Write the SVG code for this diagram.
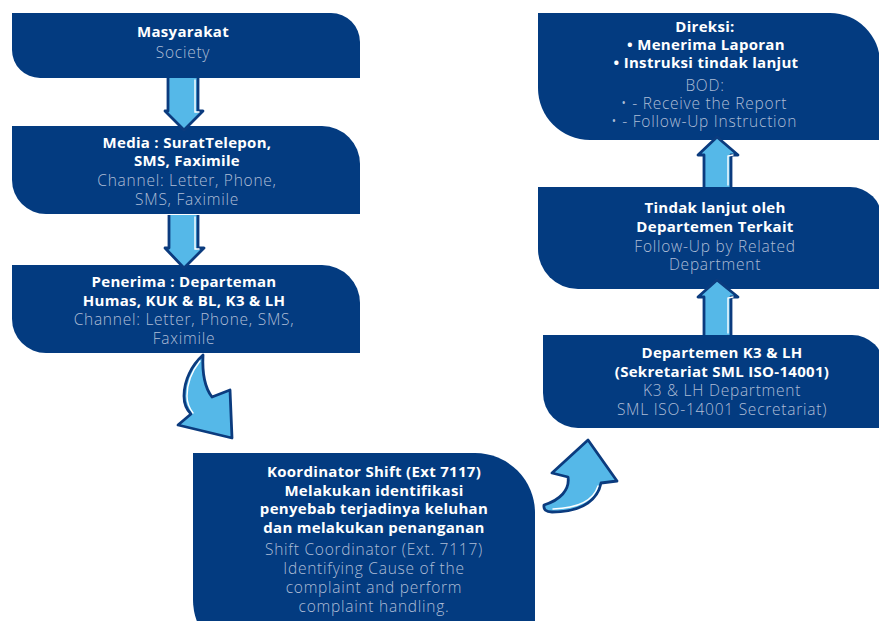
<svg xmlns="http://www.w3.org/2000/svg" width="879" height="621" viewBox="0 0 879 621">
<style>
.box{fill:#033B80}
.b{font-family:"Open Sans","Noto Sans","Liberation Sans",sans-serif;font-weight:700;font-size:15px;letter-spacing:0.3px;fill:#FFFFFF;text-anchor:middle}
.l{font-family:"Open Sans","Noto Sans","Liberation Sans",sans-serif;font-weight:300;font-size:15.5px;letter-spacing:0.75px;fill:#AEBDD6;text-anchor:middle}
.arr{fill:#55B8E8;stroke:#0B3B7E;stroke-width:2.8;stroke-linejoin:round}
.hl{fill:none;stroke:#FFFFFF;stroke-width:1.4;stroke-linecap:round}
</style>
<rect width="879" height="621" fill="#FFFFFF"/>
<g id="n1">
<path class="box" d="M12,13 H331 A29,29 0 0 1 360,42 V78 H40 A28,28 0 0 1 12,50 Z"/>
<text class="b" x="183" y="37">Masyarakat</text>
<text class="l" x="183" y="58">Society</text>
</g>
<g id="n2">
<path class="box" d="M12,126 H322 A38,38 0 0 1 360,164 V214 H46 A34,34 0 0 1 12,180 Z"/>
<text class="b" x="187" y="148">Media : SuratTelepon,</text>
<text class="b" x="187" y="166">SMS, Faximile</text>
<text class="l" x="187" y="186">Channel: Letter, Phone,</text>
<text class="l" x="187" y="205">SMS, Faximile</text>
</g>
<g id="n3">
<path class="box" d="M12,265 H322 A38,38 0 0 1 360,303 V353 H46 A34,34 0 0 1 12,319 Z"/>
<text class="b" x="184" y="287">Penerima : Departeman</text>
<text class="b" x="184" y="306">Humas, KUK &amp; BL, K3 &amp; LH</text>
<text class="l" x="184" y="325">Channel: Letter, Phone, SMS,</text>
<text class="l" x="184" y="344">Faximile</text>
</g>
<g id="n4">
<path class="box" d="M193,453 H475 A60,60 0 0 1 535,513 V660 H253 A60,60 0 0 1 193,600 Z"/>
<text class="b" x="374" y="477">Koordinator Shift (Ext 7117)</text>
<text class="b" x="374" y="496">Melakukan identifikasi</text>
<text class="b" x="374" y="514">penyebab terjadinya keluhan</text>
<text class="b" x="374" y="533">dan melakukan penanganan</text>
<text class="l" x="374" y="555">Shift Coordinator (Ext. 7117)</text>
<text class="l" x="374" y="574">Identifying Cause of the</text>
<text class="l" x="374" y="593">complaint and perform</text>
<text class="l" x="374" y="612">complaint handling.</text>
</g>
<g id="n5">
<path class="box" d="M543,335 H852 A32,32 0 0 1 884,367 V428 H578 A35,35 0 0 1 543,393 Z"/>
<text class="b" x="722" y="358">Departemen K3 &amp; LH</text>
<text class="b" x="722" y="377">(Sekretariat SML ISO-14001)</text>
<text class="l" x="722" y="396">K3 &amp; LH Department</text>
<text class="l" x="722" y="415">SML ISO-14001 Secretariat)</text>
</g>
<g id="n6">
<path class="box" d="M538,187 H850 A32,32 0 0 1 882,219 V289 H578 A40,40 0 0 1 538,249 Z"/>
<text class="b" x="715" y="213">Tindak lanjut oleh</text>
<text class="b" x="715" y="232">Departemen Terkait</text>
<text class="l" x="715" y="252">Follow-Up by Related</text>
<text class="l" x="715" y="270">Department</text>
</g>
<g id="n7">
<path class="box" d="M538,13 H830 A50,50 0 0 1 880,63 V140 H590 A52,52 0 0 1 538,88 Z"/>
<text class="b" x="705" y="32">Direksi:</text>
<text class="b" x="706" y="50">•  Menerima Laporan</text>
<text class="b" x="706" y="68">•  Instruksi tindak lanjut</text>
<text class="l" x="705" y="91">BOD:</text>
<text class="l" x="704" y="109">•  - Receive the Report</text>
<text class="l" x="704" y="127">•  - Follow-Up Instruction</text>
</g>
<g id="connectors">
<path class="arr" d="M168,78 V111 H165 L184,130 L203,111 H198 V78"/>
<path class="hl" d="M195,80 V112 L199,112"/>
<path class="arr" d="M169,215 V248 H165 L184,268 L204,248 H198 V215"/>
<path class="hl" d="M195,217 V249 L199,249"/>
<path class="arr" d="M203,355 C192,365 184,380 184,396 C184,404 187,410 191,414 L178,425 L232,438 L230,390 L212,397 C205,388 202,375 203,355 Z"/>
<path class="hl" d="M200,361 C192,371 187,383 187,396 C187,403 190,409 193,413"/>
<path class="arr" d="M588,440 L617,481 L601,483 C598,498 585,512 552,512 Q543,512 544,505 C560,500 570,490 568,477 L552,473 Z"/>
<path class="hl" d="M598,486 C594,499 582,508 553,509"/>
<path class="arr" d="M731,335 V297 H738 L717,280 L698,297 H704 V335"/>
<path class="hl" d="M728,333 V298 L733,297"/>
<path class="arr" d="M731,187 V155 H738 L717,137 L698,155 H704 V187"/>
<path class="hl" d="M728,185 V156 L733,155"/>
</g>
</svg>
